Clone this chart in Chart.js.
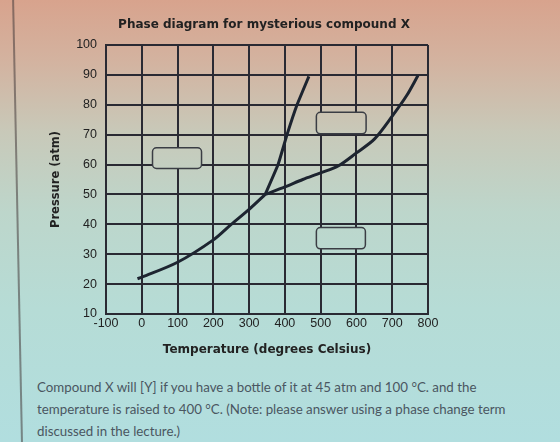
<!DOCTYPE html>
<html>
<head>
<meta charset="utf-8">
<script src="https://cdn.jsdelivr.net/npm/chart.js@4.4.1/dist/chart.umd.min.js"></script>
<style>
    html, body { margin: 0; padding: 0; }
    body {
        width: 560px; height: 442px; overflow: hidden; position: relative;
        background: linear-gradient(to bottom, #d8a38d 0%, #d3b3a0 14%, #c8c9b9 30%, #bdd6cb 48%, #b6dcd6 70%, #b1dedf 100%);
    }
    #wrap { position: absolute; left: 0; top: 0; width: 560px; height: 360px; }
    #edge {
        position: absolute; left: 12px; top: -5px; width: 1.5px; height: 460px;
        background: rgba(70, 60, 60, 0.55);
        transform: rotate(-1.15deg); transform-origin: top left;
    }
    #question {
        position: absolute; left: 37px; top: 376px; width: 520px;
        font-family: Lato, "Open Sans", sans-serif; font-size: 13.3px; line-height: 22px;
        color: #4a5661;
    }
</style>
</head>
<body>
<div id="edge"></div>
<div id="wrap"><canvas id="phaseChart" width="560" height="360"></canvas></div>
<div id="question">Compound X will [Y] if you have a bottle of it at 45 atm and 100 °C. and the<br>temperature is raised to 400 °C. (Note: please answer using a phase change term<br>discussed in the lecture.)</div>

<script>
// Phase boundaries (temperature in °C, pressure in atm)
const subT = [-12, 0, 100, 200, 250, 300, 345];
const subP = [21.8, 22.3, 27.3, 34.8, 40, 45, 50];
const vapT = [345, 400, 450, 500, 550, 600, 650, 700, 740, 772];
const vapP = [50, 52.5, 55, 57.2, 59.6, 63.9, 68.5, 76.2, 83, 89.8];
const meltT = [345, 381, 406, 434, 467];
const meltP = [50, 60, 70, 80, 89.5];

// Axis ticks
const tempTicks = [-100, 0, 100, 200, 300, 400, 500, 600, 700, 800];
const pressTicks = [10, 20, 30, 40, 50, 60, 70, 80, 90, 100];

// Empty answer boxes, in data units
const blankBoxes = [
    { t0: 30, t1: 167, p0: 58.7, p1: 65.6 },
    { t0: 488, t1: 627, p0: 70.3, p1: 77.5 },
    { t0: 488, t1: 625, p0: 31.8, p1: 38.9 },
];

const chartTitle = "Phase diagram for mysterious compound X";
const lineColor = "#1d2430";
const gridColor = "#2a2a33";

function toPoints(xs, ys) {
    return xs.map((x, i) => ({ x: x, y: ys[i] }));
}

function curve(xs, ys, tension) {
    return {
        data: toPoints(xs, ys),
        showLine: true,
        borderColor: lineColor,
        borderWidth: 3,
        pointRadius: 0,
        tension: tension,
        fill: false,
    };
}

function bgGradient(ctx) {
    const grad = ctx.createLinearGradient(0, 0, 0, 442);
    grad.addColorStop(0, "#d8a38d");
    grad.addColorStop(0.14, "#d3b3a0");
    grad.addColorStop(0.30, "#c8c9b9");
    grad.addColorStop(0.48, "#bdd6cb");
    grad.addColorStop(0.70, "#b6dcd6");
    grad.addColorStop(1, "#b1dedf");
    return grad;
}

// Blank label boxes on top of the grid, plus the title centred over the plot
const boxPlugin = {
    id: "blankBoxes",
    afterDatasetsDraw(chart) {
        const ctx = chart.ctx;
        const x = chart.scales.x;
        const y = chart.scales.y;
        ctx.save();
        blankBoxes.forEach((b) => {
            const left = x.getPixelForValue(b.t0);
            const right = x.getPixelForValue(b.t1);
            const top = y.getPixelForValue(b.p1);
            const bottom = y.getPixelForValue(b.p0);
            ctx.beginPath();
            ctx.roundRect(left, top, right - left, bottom - top, 4);
            ctx.fillStyle = bgGradient(ctx);
            ctx.fill();
            ctx.lineWidth = 1.5;
            ctx.strokeStyle = "#3a3d44";
            ctx.stroke();
        });

        const area = chart.chartArea;
        ctx.fillStyle = "#222";
        ctx.font = "bold 12px 'DejaVu Sans'";
        ctx.textAlign = "center";
        ctx.textBaseline = "middle";
        ctx.fillText(chartTitle, (area.left + area.right) / 2 - 3, 25);
        ctx.restore();
    },
};

const ctx = document.getElementById("phaseChart").getContext("2d");
const phaseChart = new Chart(ctx, {
    type: "scatter",
    data: {
        datasets: [curve(subT, subP, 0.3), curve(vapT, vapP, 0.3), curve(meltT, meltP, 0.1)],
    },
    options: {
        responsive: false,
        animation: false,
        layout: { padding: { left: 0, right: 132, top: 45, bottom: 0 } },
        plugins: {
            legend: { display: false },
            tooltip: { enabled: false },
            title: { display: false },
        },
        scales: {
            x: {
                type: "linear",
                min: -100,
                max: 800,
                afterBuildTicks: (axis) => {
                    axis.ticks = tempTicks.map((v) => ({ value: v }));
                },
                afterFit: (axis) => {
                    axis.height = 46;
                },
                grid: { color: gridColor, lineWidth: 2, drawTicks: false },
                border: { color: gridColor, width: 2 },
                ticks: {
                    color: "#222",
                    padding: 2,
                    maxRotation: 0,
                    font: { family: "Liberation Sans", size: 12.5 },
                },
                title: {
                    display: true,
                    text: "Temperature (degrees Celsius)",
                    color: "#222",
                    font: { family: "DejaVu Sans", size: 12, weight: "bold" },
                    padding: { top: 0, bottom: 3 },
                },
            },
            y: {
                type: "linear",
                min: 10,
                max: 100,
                afterBuildTicks: (axis) => {
                    axis.ticks = pressTicks.map((v) => ({ value: v }));
                },
                afterFit: (axis) => {
                    axis.width = 106;
                },
                grid: { color: gridColor, lineWidth: 2, drawTicks: false },
                border: { color: gridColor, width: 2 },
                ticks: {
                    color: "#222",
                    padding: 9,
                    font: { family: "Liberation Sans", size: 12.5 },
                },
                title: {
                    display: true,
                    text: "Pressure (atm)",
                    color: "#222",
                    font: { family: "DejaVu Sans", size: 11.5, weight: "bold" },
                    padding: { top: 49, bottom: 0 },
                },
            },
        },
    },
    plugins: [boxPlugin],
});
</script>
</body>
</html>
